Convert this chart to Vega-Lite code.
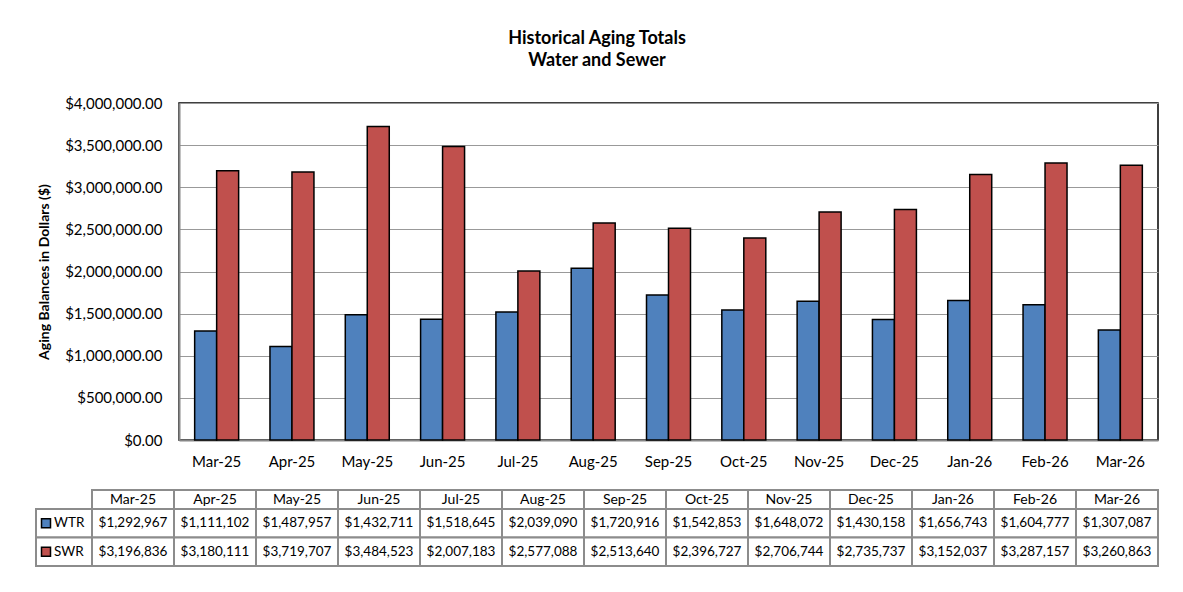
{
  "$schema": "https://vega.github.io/schema/vega-lite/v6.json",
  "padding": {"left": 35, "top": 30, "right": 22, "bottom": 20},
  "background": "white",
  "title": {"text": ["Historical Aging Totals", "Water and Sewer"], "font": "Lato", "fontSize": 18, "fontWeight": "bold", "anchor": "middle", "offset": 25, "lineHeight": 22, "color": "black"},
  "config": {"font": "Lato", "view": {"stroke": null}},
  "datasets": {
    "aging": [
      {"month": "Mar-25", "series": "WTR", "value": 1292967},
      {"month": "Mar-25", "series": "SWR", "value": 3196836},
      {"month": "Apr-25", "series": "WTR", "value": 1111102},
      {"month": "Apr-25", "series": "SWR", "value": 3180111},
      {"month": "May-25", "series": "WTR", "value": 1487957},
      {"month": "May-25", "series": "SWR", "value": 3719707},
      {"month": "Jun-25", "series": "WTR", "value": 1432711},
      {"month": "Jun-25", "series": "SWR", "value": 3484523},
      {"month": "Jul-25", "series": "WTR", "value": 1518645},
      {"month": "Jul-25", "series": "SWR", "value": 2007183},
      {"month": "Aug-25", "series": "WTR", "value": 2039090},
      {"month": "Aug-25", "series": "SWR", "value": 2577088},
      {"month": "Sep-25", "series": "WTR", "value": 1720916},
      {"month": "Sep-25", "series": "SWR", "value": 2513640},
      {"month": "Oct-25", "series": "WTR", "value": 1542853},
      {"month": "Oct-25", "series": "SWR", "value": 2396727},
      {"month": "Nov-25", "series": "WTR", "value": 1648072},
      {"month": "Nov-25", "series": "SWR", "value": 2706744},
      {"month": "Dec-25", "series": "WTR", "value": 1430158},
      {"month": "Dec-25", "series": "SWR", "value": 2735737},
      {"month": "Jan-26", "series": "WTR", "value": 1656743},
      {"month": "Jan-26", "series": "SWR", "value": 3152037},
      {"month": "Feb-26", "series": "WTR", "value": 1604777},
      {"month": "Feb-26", "series": "SWR", "value": 3287157},
      {"month": "Mar-26", "series": "WTR", "value": 1307087},
      {"month": "Mar-26", "series": "SWR", "value": 3260863}
    ],
    "months": [
      {"month": "Mar-25"}, {"month": "Apr-25"}, {"month": "May-25"}, {"month": "Jun-25"},
      {"month": "Jul-25"}, {"month": "Aug-25"}, {"month": "Sep-25"}, {"month": "Oct-25"},
      {"month": "Nov-25"}, {"month": "Dec-25"}, {"month": "Jan-26"}, {"month": "Feb-26"},
      {"month": "Mar-26"}
    ],
    "seriesList": [{"series": "WTR", "col": "key"}, {"series": "SWR", "col": "key"}]
  },
  "spacing": 19,
  "vconcat": [
    {
      "width": 979,
      "height": 337,
      "data": {"name": "aging"},
      "view": {"stroke": "black", "strokeWidth": 1.5},
      "mark": {"type": "bar", "stroke": "black", "strokeWidth": 1.5},
      "encoding": {
        "x": {
          "field": "month", "type": "ordinal", "sort": null,
          "scale": {"paddingInner": 0.416, "paddingOuter": 0.208},
          "axis": {"title": null, "labelAngle": 0, "ticks": false, "domain": true, "domainColor": "#868686", "domainWidth": 2, "labelFontSize": 15, "labelPadding": 14, "labelColor": "black"}
        },
        "xOffset": {"field": "series", "sort": ["WTR", "SWR"]},
        "y": {
          "field": "value", "type": "quantitative",
          "scale": {"domain": [0, 4000000]},
          "axis": {
            "values": [0, 500000, 1000000, 1500000, 2000000, 2500000, 3000000, 3500000, 4000000],
            "format": "$,.2f", "title": "Aging Balances in Dollars ($)", "titleFontSize": 14, "titleFontWeight": "bold", "titleColor": "black", "titlePadding": 13,
            "labelFontSize": 15, "labelColor": "black", "labelPadding": 17, "ticks": false,
            "gridColor": "#999999", "gridWidth": 1.2, "domainColor": "#868686", "domainWidth": 2
          }
        },
        "color": {"field": "series", "type": "nominal", "scale": {"domain": ["WTR", "SWR"], "range": ["#4F81BD", "#C0504D"]}, "legend": null}
      }
    },
    {
      "width": 979,
      "height": 76,
      "resolve": {"scale": {"x": "independent", "y": "independent"}},
      "layer": [
        {
          "data": {"name": "seriesList"},
          "layer": [
            {
              "mark": {"type": "rect", "fill": "white", "stroke": "#8c8c8c", "strokeWidth": 2},
              "encoding": {
                "x": {"field": "col", "type": "ordinal", "scale": {"range": [-143, -87], "paddingInner": 0, "paddingOuter": 0}, "axis": null},
                "y": {"field": "series", "type": "ordinal", "scale": {"domain": ["WTR", "SWR"], "range": [19, 76], "paddingInner": 0, "paddingOuter": 0}, "axis": null}
              }
            },
            {
              "mark": {"type": "square", "size": 81, "stroke": "black", "strokeWidth": 1.5, "opacity": 1, "filled": true, "xOffset": -18},
              "encoding": {
                "x": {"field": "col", "type": "ordinal", "axis": null},
                "y": {"field": "series", "type": "ordinal", "axis": null},
                "color": {"field": "series", "type": "nominal", "legend": null}
              }
            },
            {
              "mark": {"type": "text", "align": "left", "xOffset": -10, "fontSize": 13.5, "color": "black"},
              "encoding": {
                "x": {"field": "col", "type": "ordinal", "axis": null},
                "y": {"field": "series", "type": "ordinal", "axis": null},
                "text": {"field": "series"}
              }
            }
          ]
        },
        {
          "data": {"name": "months"},
          "layer": [
            {
              "mark": {"type": "rect", "fill": "white", "stroke": "#8c8c8c", "strokeWidth": 2},
              "encoding": {
                "x": {"field": "month", "type": "ordinal", "sort": null, "axis": null, "scale": {"range": [-87, 979], "paddingInner": 0, "paddingOuter": 0}},
                "y": {"datum": "hdr", "type": "ordinal", "scale": {"domain": ["hdr"], "range": [0, 19], "paddingInner": 0, "paddingOuter": 0}, "axis": null}
              }
            },
            {
              "mark": {"type": "text", "fontSize": 14, "color": "black"},
              "encoding": {
                "x": {"field": "month", "type": "ordinal", "sort": null, "axis": null},
                "y": {"datum": "hdr", "type": "ordinal", "axis": null},
                "text": {"field": "month"}
              }
            }
          ]
        },
        {
          "data": {"name": "aging"},
          "layer": [
            {
              "mark": {"type": "rect", "fill": "white", "stroke": "#8c8c8c", "strokeWidth": 2},
              "encoding": {
                "x": {"field": "month", "type": "ordinal", "sort": null, "axis": null, "scale": {"range": [-87, 979], "paddingInner": 0, "paddingOuter": 0}},
                "y": {"field": "series", "type": "ordinal", "scale": {"domain": ["WTR", "SWR"], "range": [19, 76], "paddingInner": 0, "paddingOuter": 0}, "axis": null}
              }
            },
            {
              "mark": {"type": "text", "fontSize": 13.5, "color": "black"},
              "encoding": {
                "x": {"field": "month", "type": "ordinal", "sort": null, "axis": null},
                "y": {"field": "series", "type": "ordinal", "axis": null},
                "text": {"field": "value", "type": "quantitative", "format": "$,.0f"}
              }
            }
          ]
        }
      ]
    }
  ]
}
